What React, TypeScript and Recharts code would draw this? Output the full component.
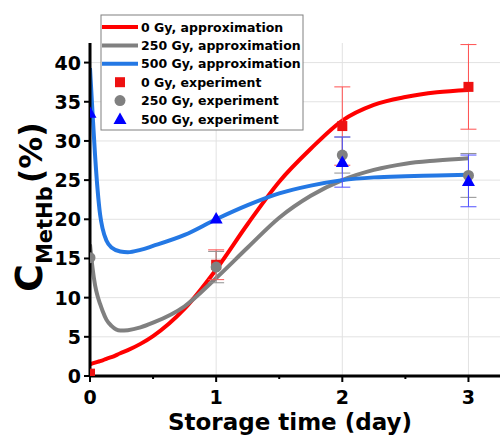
import React from 'react';
import { ComposedChart, Line, Scatter, XAxis, YAxis, CartesianGrid, ErrorBar, Customized } from 'recharts';

const FONT = '"DejaVu Sans", "Liberation Sans", Arial, sans-serif';

// fitted (approximation) curves
const curveDays = [0, 0.02, 0.04, 0.06, 0.08, 0.1, 0.13, 0.17, 0.24, 0.3, 0.4, 0.5, 0.75, 1, 1.25, 1.5, 1.75, 2, 2.25, 2.5, 2.75, 3];
const fit0Gy = [1.5, 1.6, 1.7, 1.8, 1.9, 2.0, 2.2, 2.4, 2.9, 3.3, 4.1, 5.1, 8.6, 13.6, 19.4, 24.8, 29.0, 32.6, 34.6, 35.6, 36.2, 36.5];
const fit250Gy = [16.8, 13.8, 11.6, 10.2, 9.2, 8.3, 7.2, 6.4, 5.8, 5.85, 6.2, 6.8, 8.9, 12.5, 16.4, 20.2, 23.0, 25.0, 26.3, 27.1, 27.5, 27.8];
const fit500Gy = [39.3, 33.6, 28.2, 23.8, 20.6, 18.8, 17.3, 16.4, 15.9, 15.8, 16.1, 16.6, 18.0, 20.0, 21.8, 23.3, 24.3, 25.0, 25.35, 25.5, 25.6, 25.7];

// experiment points
const expDays = [0, 1, 2, 3];
const exp0Gy = [0.3, 14.2, 31.9, 36.9];
const err0Gy = [0, 1.9, 5.0, 5.4];
const exp250Gy = [15.1, 13.9, 28.2, 25.6];
const err250Gy = [0, 2.0, 2.3, 2.8];
const exp500Gy = [33.6, 20.1, 27.3, 24.9];
const err500Gy = [0, 0, 3.2, 3.3];

const xTicks = [0, 0.5, 1, 1.5, 2, 2.5, 3];
const yTicks = [0, 2.5, 5, 7.5, 10, 12.5, 15, 17.5, 20, 22.5, 25, 27.5, 30, 32.5, 35, 37.5, 40];
const xGrid = [1, 2, 3];
const yGrid = [5, 10, 15, 20, 25, 30, 35, 40];

const seriesNames = [
  '0 Gy, approximation',
  '250 Gy, approximation',
  '500 Gy, approximation',
  '0 Gy, experiment',
  '250 Gy, experiment',
  '500 Gy, experiment',
];

const RED = '#ff0000';
const GRAY = '#808080';
const BLUE = '#2478e4';
const SQ = '#ee1111';
const TRI = '#0000ff';

const curve = (ys: number[]) => curveDays.map((x, i) => ({ x, y: ys[i] }));
const points = (ys: number[], errs: number[]) => expDays.map((x, i) => ({ x, y: ys[i], err: errs[i] }));

const SquareShape = (p: any) => <rect x={p.cx - 5} y={p.cy - 5} width={10} height={10} fill={SQ} />;
const CircleShape = (p: any) => <circle cx={p.cx} cy={p.cy} r={5.5} fill={GRAY} />;
const TriShape = (p: any) => (
  <polygon points={`${p.cx},${p.cy - 6.5} ${p.cx + 6.5},${p.cy + 5} ${p.cx - 6.5},${p.cy + 5}`} fill={TRI} />
);

const XTick = (props: any) => {
  const { x, y, payload } = props;
  const major = Number.isInteger(payload.value);
  return (
    <g>
      <line x1={x} x2={x} y1={y} y2={y + (major ? 6 : 3)} stroke="#000" strokeWidth={2} />
      {major && (
        <text x={x} y={y + 28} textAnchor="middle" fontSize={19} fontWeight="bold" fontFamily={FONT} fill="#000">
          {payload.value}
        </text>
      )}
    </g>
  );
};

const YTick = (props: any) => {
  const { x, y, payload } = props;
  const major = payload.value % 5 === 0;
  return (
    <g>
      <line x1={x - (major ? 6 : 3)} x2={x} y1={y} y2={y} stroke="#000" strokeWidth={2} />
      {major && (
        <text x={x - 9} y={y + 7} textAnchor="end" fontSize={19} fontWeight="bold" fontFamily={FONT} fill="#000">
          {payload.value}
        </text>
      )}
    </g>
  );
};

const LegendBox = () => {
  const x0 = 101;
  const y0 = 15;
  const rows = [27, 45.4, 63.8, 82.2, 100.6, 119];
  return (
    <g>
      <rect x={x0} y={y0} width={202} height={115} fill="#fff" stroke="#808080" strokeWidth={1} />
      <line x1={102} x2={138} y1={rows[0]} y2={rows[0]} stroke={RED} strokeWidth={4} />
      <line x1={102} x2={138} y1={rows[1]} y2={rows[1]} stroke={GRAY} strokeWidth={4} />
      <line x1={102} x2={138} y1={rows[2]} y2={rows[2]} stroke={BLUE} strokeWidth={4} />
      <rect x={115} y={rows[3] - 5} width={10} height={10} fill={SQ} />
      <circle cx={120} cy={rows[4]} r={5.5} fill={GRAY} />
      <polygon points={`120,${rows[5] - 6.5} 126.5,${rows[5] + 5} 113.5,${rows[5] + 5}`} fill={TRI} />
      {seriesNames.map((n, i) => (
        <text key={n} x={141} y={rows[i] + 4.5} fontSize={12.5} fontWeight="bold" fontFamily={FONT} fill="#000">
          {n}
        </text>
      ))}
    </g>
  );
};

const AxisTitles = () => (
  <g>
    <text x={290} y={430} textAnchor="middle" fontSize={23} fontWeight="bold" fontFamily={FONT} fill="#000">
      Storage time (day)
    </text>
    <text transform="translate(42,292) rotate(-90)" fontWeight="bold" fontFamily={FONT} fill="#000">
      <tspan fontSize={38}>C</tspan>
      <tspan fontSize={21} dy={10}>MetHb</tspan>
      <tspan fontSize={32} dy={-10} dx={3}>(%)</tspan>
    </text>
  </g>
);

export default function App() {
  return (
    <div style={{ width: 500, height: 437, background: '#fff' }}>
      <style>{'body{margin:0;}'}</style>
      <ComposedChart width={500} height={437} margin={{ top: 43, right: 0, bottom: 0, left: 0 }}>
        <CartesianGrid stroke="#e2e2e2" strokeWidth={1} horizontalValues={yGrid} verticalValues={xGrid} />
        <XAxis
          type="number"
          dataKey="x"
          domain={[0, 3.25]}
          ticks={xTicks}
          height={61}
          tickSize={0}
          tickMargin={0}
          tickLine={false}
          tick={<XTick />}
          axisLine={{ stroke: '#000', strokeWidth: 3 }}
          allowDataOverflow
        />
        <YAxis
          type="number"
          dataKey="y"
          domain={[0, 42.5]}
          ticks={yTicks}
          width={90}
          tickSize={0}
          tickMargin={0}
          tickLine={false}
          tick={<YTick />}
          axisLine={{ stroke: '#000', strokeWidth: 3 }}
          allowDataOverflow
        />
        <Line data={curve(fit0Gy)} dataKey="y" type="monotone" stroke={RED} strokeWidth={4} dot={false} activeDot={false} isAnimationActive={false} />
        <Line data={curve(fit250Gy)} dataKey="y" type="monotone" stroke={GRAY} strokeWidth={4} dot={false} activeDot={false} isAnimationActive={false} />
        <Line data={curve(fit500Gy)} dataKey="y" type="monotone" stroke={BLUE} strokeWidth={4} dot={false} activeDot={false} isAnimationActive={false} />
        <Scatter data={points(exp0Gy, err0Gy)} dataKey="y" shape={SquareShape} isAnimationActive={false}>
          <ErrorBar dataKey="err" direction="y" width={8} stroke="#ff5050" strokeWidth={1} />
        </Scatter>
        <Scatter data={points(exp250Gy, err250Gy)} dataKey="y" shape={CircleShape} isAnimationActive={false}>
          <ErrorBar dataKey="err" direction="y" width={8} stroke="#909090" strokeWidth={1} />
        </Scatter>
        <Scatter data={points(exp500Gy, err500Gy)} dataKey="y" shape={TriShape} isAnimationActive={false}>
          <ErrorBar dataKey="err" direction="y" width={8} stroke="#5050ff" strokeWidth={1} />
        </Scatter>
        <Customized component={<LegendBox />} />
        <Customized component={<AxisTitles />} />
      </ComposedChart>
    </div>
  );
}
